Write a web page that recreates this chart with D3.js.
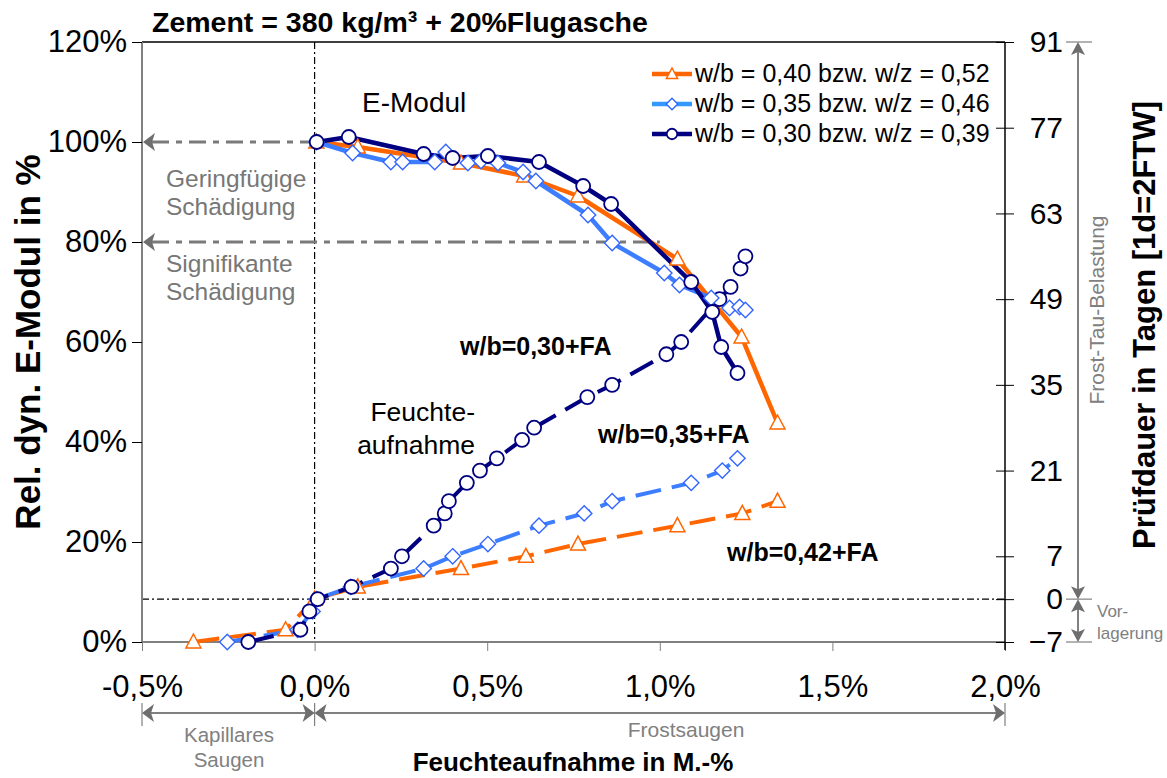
<!DOCTYPE html>
<html>
<head>
<meta charset="utf-8">
<script src="https://cdn.jsdelivr.net/npm/d3@7"></script>
<style>
  body { margin: 0; background: #fff; }
  svg { font-family: "Liberation Sans", Arial, sans-serif; }
</style>
</head>
<body>
<div id="chart"></div>
<script>
// --- Daten ---
// E-Modul (linke Achse, %) ueber Feuchteaufnahme (M.-%)
const feuchteE040 = [0.005, 0.125, 0.424, 0.607, 0.763, 1.051, 1.237, 1.341];
const emodul040   = [100, 99, 95.8, 93.2, 89.2, 76.6, 61, 43.8];

const feuchteE035 = [0.006, 0.110, 0.221, 0.255, 0.348, 0.380, 0.444, 0.482, 0.531, 0.604, 0.641, 0.792, 0.862, 1.013, 1.057, 1.149, 1.202, 1.231, 1.248];
const emodul035   = [100, 97.8, 96, 96, 96, 98, 95.8, 96.2, 95.8, 94, 92.2, 85.4, 79.8, 73.8, 71.4, 68.8, 66.8, 67, 66.4];

const feuchteE030 = [0.006, 0.099, 0.316, 0.40, 0.502, 0.65, 0.778, 0.859, 1.091, 1.152, 1.178, 1.225];
const emodul030   = [100, 101, 97.6, 96.8, 97.2, 96, 91.2, 87.6, 72, 66, 59, 53.8];

// Feuchteaufnahme (M.-%) ueber Pruefdauer (rechte Achse, Tage)
const feuchte042 = [-0.351, -0.084, 0.0, 0.125, 0.424, 0.612, 0.763, 1.051, 1.239, 1.341];
const tage042    = [-7, -5, 0, 2, 5, 7, 9, 12, 14, 16];

const feuchte035 = [-0.253, -0.049, -0.006, 0.006, 0.105, 0.316, 0.40, 0.502, 0.65, 0.781, 0.862, 1.091, 1.181, 1.225];
const tage035    = [-7, -5, -2, 0, 2, 5, 7, 9, 12, 14, 16, 19, 21, 23];

const feuchte030 = [-0.192, -0.041, -0.015, 0.009, 0.107, 0.221, 0.253, 0.345, 0.377, 0.389, 0.441, 0.479, 0.528, 0.601, 0.636, 0.790, 0.862, 1.019, 1.062, 1.173, 1.205, 1.234, 1.248];
const tage030    = [-7, -5, -2, 0, 2, 5, 7, 12, 14, 16, 19, 21, 23, 26, 28, 33, 35, 40, 42, 49, 51, 54, 56];

// Achsen
const xTicks = [-0.5, 0, 0.5, 1.0, 1.5, 2.0];
const yTicks = [0, 20, 40, 60, 80, 100, 120];
const tagTicks = [-7, 0, 7, 21, 35, 49, 63, 77, 91];

const legendLabels = ["w/b = 0,40 bzw. w/z = 0,52", "w/b = 0,35 bzw. w/z = 0,46", "w/b = 0,30 bzw. w/z = 0,39"];

// Farben
const orange = "#ff6600";
const blau = "#3d7dff";
const blauMarker = "#3366ff";
const navy = "#000080";
const grau = "#7a7a7a";

const breite = 1167, hoehe = 778;
const links = 142, rechts = 1005, oben = 42, unten = 642;

const svg = d3.select("#chart").append("svg")
  .attr("width", breite).attr("height", hoehe);

const x = d3.scaleLinear().domain([-0.5, 2.0]).range([links, rechts]);
const yE = d3.scaleLinear().domain([0, 120]).range([unten, oben]);
const yT = d3.scaleLinear().domain([-7, 91]).range([unten, oben]);

// Rahmen oben
svg.append("line").attr("x1", links).attr("x2", rechts).attr("y1", oben).attr("y2", oben)
  .attr("stroke", "#000").attr("stroke-width", 1.5);

// Hilfslinien strichpunktiert (schwarz)
svg.append("line").attr("x1", x(0)).attr("x2", x(0)).attr("y1", oben).attr("y2", unten)
  .attr("stroke", "#000").attr("stroke-width", 1.2).attr("stroke-dasharray", "7,3,2,3");
svg.append("line").attr("x1", links).attr("x2", rechts).attr("y1", yT(0)).attr("y2", yT(0))
  .attr("stroke", "#000").attr("stroke-width", 1.2).attr("stroke-dasharray", "7,3,2,3");

// Pfeil-Spitzen (grau)
function spitze(px, py, richtung) {
  // richtung: "l", "r", "u", "d"
  const p = {
    l: [[0, 0], [12, -9], [9, 0], [12, 9]],
    r: [[0, 0], [-12, -9], [-9, 0], [-12, 9]],
    u: [[0, 0], [-7, 13], [0, 10], [7, 13]],
    d: [[0, 0], [-7, -13], [0, -10], [7, -13]]
  }[richtung];
  svg.append("path")
    .attr("d", "M" + p.map(q => (px + q[0]) + "," + (py + q[1])).join("L") + "Z")
    .attr("fill", "#6e6e6e");
}

// Schaedigungsgrenzen 100 % und 80 %
svg.append("line").attr("x1", links + 10).attr("x2", x(0) - 4).attr("y1", yE(100)).attr("y2", yE(100))
  .attr("stroke", grau).attr("stroke-width", 3).attr("stroke-dasharray", "17,7,6,7");
spitze(links + 1, yE(100), "l");
svg.append("line").attr("x1", links + 10).attr("x2", x(1.0)).attr("y1", yE(80)).attr("y2", yE(80))
  .attr("stroke", grau).attr("stroke-width", 3).attr("stroke-dasharray", "17,7,6,7");
spitze(links + 1, yE(80), "l");

const grauText = [
  ["Geringfügige", 187], ["Schädigung", 215], ["Signifikante", 272], ["Schädigung", 300]
];
svg.selectAll("text.grau").data(grauText).join("text")
  .attr("class", "grau")
  .attr("x", 166).attr("y", d => d[1])
  .attr("font-size", 24.5).attr("fill", "#777")
  .text(d => d[0]);

// Achsen
const achseLinks = svg.append("g").attr("transform", `translate(${links},0)`)
  .call(d3.axisLeft(yE).tickValues(yTicks).tickSize(10).tickPadding(5).tickFormat(d => d + "%"));
achseLinks.select(".domain").attr("stroke", "#808080").attr("stroke-width", 2).attr("d", `M0,${oben}V${unten}`);
achseLinks.selectAll("text").attr("font-size", 31).attr("fill", "#000").attr("font-family", null);

const achseUnten = svg.append("g").attr("transform", `translate(0,${unten})`)
  .call(d3.axisBottom(x).tickValues(xTicks).tickSize(9).tickPadding(24)
    .tickFormat(d => (d < 0 ? "-" : "") + Math.abs(d).toFixed(1).replace(".", ",") + "%"));
achseUnten.select(".domain").attr("stroke", "#808080").attr("stroke-width", 2).attr("d", `M${links},0H${rechts}`);
achseUnten.selectAll(".tick line").attr("stroke", "#808080");
achseUnten.selectAll("text").attr("font-size", 31).attr("fill", "#000").attr("font-family", null);

const achseRechts = svg.append("g").attr("transform", `translate(${rechts},0)`)
  .call(d3.axisRight(yT).tickValues(tagTicks).tickSize(9).tickPadding(0));
achseRechts.select(".domain").attr("stroke", "#000").attr("stroke-width", 1.5).attr("d", `M0,${oben}V${unten + 8}`);
achseRechts.selectAll(".tick line").attr("x1", -9).attr("x2", 9);
achseRechts.selectAll("text").attr("font-size", 30).attr("fill", "#000").attr("font-family", null)
  .attr("text-anchor", "end").attr("x", 58);

// Achsentitel
svg.append("text")
  .attr("transform", `translate(40,342) rotate(-90)`)
  .attr("text-anchor", "middle").attr("font-size", 35).attr("font-weight", "bold")
  .text("Rel. dyn. E-Modul in %");
svg.append("text")
  .attr("transform", `translate(1155,325) rotate(-90)`)
  .attr("text-anchor", "middle").attr("font-size", 31).attr("font-weight", "bold")
  .text("Prüfdauer in Tagen [1d=2FTW]");
svg.append("text")
  .attr("x", 573).attr("y", 771)
  .attr("text-anchor", "middle").attr("font-size", 26).attr("font-weight", "bold")
  .text("Feuchteaufnahme in M.-%");
svg.append("text")
  .attr("x", 152).attr("y", 32)
  .attr("font-size", 28.5).attr("font-weight", "bold")
  .text("Zement = 380 kg/m³ + 20%Flugasche");

// Rechte Zusatzachse: Frost-Tau-Belastung / Vorlagerung
[91, 0, -7].forEach(t => {
  svg.append("line").attr("x1", 1066).attr("x2", 1092).attr("y1", yT(t)).attr("y2", yT(t))
    .attr("stroke", "#808080").attr("stroke-width", 1.2);
});
svg.append("line").attr("x1", 1078).attr("x2", 1078).attr("y1", yT(91) + 8).attr("y2", yT(0) - 8)
  .attr("stroke", "#808080").attr("stroke-width", 2);
spitze(1078, yT(91), "u");
spitze(1078, yT(0), "d");
svg.append("line").attr("x1", 1078).attr("x2", 1078).attr("y1", yT(0) + 8).attr("y2", yT(-7) - 8)
  .attr("stroke", "#808080").attr("stroke-width", 2);
spitze(1078, yT(0), "u");
spitze(1078, yT(-7), "d");
svg.append("text")
  .attr("transform", `translate(1104,310) rotate(-90)`)
  .attr("text-anchor", "middle").attr("font-size", 21).attr("fill", "#808080")
  .text("Frost-Tau-Belastung");
svg.append("text").attr("x", 1097).attr("y", 617).attr("font-size", 17).attr("fill", "#808080").text("Vor-");
svg.append("text").attr("x", 1097).attr("y", 639).attr("font-size", 17).attr("fill", "#808080").text("lagerung");

// Untere Zusatzachse: Kapillares Saugen / Frostsaugen
[-0.5, 0, 2.0].forEach(v => {
  svg.append("line").attr("x1", x(v)).attr("x2", x(v)).attr("y1", 703).attr("y2", 726)
    .attr("stroke", "#808080").attr("stroke-width", 1.2);
});
svg.append("line").attr("x1", x(-0.5) + 8).attr("x2", x(0) - 8).attr("y1", 713).attr("y2", 713)
  .attr("stroke", "#808080").attr("stroke-width", 2);
spitze(x(-0.5), 713, "l");
spitze(x(0), 713, "r");
svg.append("line").attr("x1", x(0) + 8).attr("x2", x(2.0) - 8).attr("y1", 713).attr("y2", 713)
  .attr("stroke", "#808080").attr("stroke-width", 2);
spitze(x(0), 713, "l");
spitze(x(2.0), 713, "r");
svg.append("text").attr("x", 229).attr("y", 742).attr("text-anchor", "middle")
  .attr("font-size", 20.5).attr("fill", "#808080").text("Kapillares");
svg.append("text").attr("x", 229).attr("y", 767).attr("text-anchor", "middle")
  .attr("font-size", 20.5).attr("fill", "#808080").text("Saugen");
svg.append("text").attr("x", 686).attr("y", 737).attr("text-anchor", "middle")
  .attr("font-size", 21).attr("fill", "#808080").text("Frostsaugen");

// Beschriftungen im Diagramm
svg.append("text").attr("x", 362).attr("y", 112).attr("font-size", 28).text("E-Modul");
svg.append("text").attr("x", 475).attr("y", 421).attr("text-anchor", "end").attr("font-size", 26.5).text("Feuchte-");
svg.append("text").attr("x", 475).attr("y", 454).attr("text-anchor", "end").attr("font-size", 26.5).text("aufnahme");
[["w/b=0,30+FA", 460, 355], ["w/b=0,35+FA", 598, 443], ["w/b=0,42+FA", 727, 561]].forEach(d => {
  svg.append("text").attr("x", d[1]).attr("y", d[2]).attr("font-size", 25).attr("font-weight", "bold").text(d[0]);
});

// Marker
function marker(g, typ, farbe, gross) {
  const s = gross ? 1 : 0.75;
  if (typ === "kreis") {
    g.append("circle").attr("r", 7 * s).attr("fill", "#fff").attr("stroke", farbe).attr("stroke-width", 1.8);
  } else if (typ === "raute") {
    g.append("path").attr("d", d3.symbol(d3.symbolDiamond2, 150 * s * s)())
      .attr("fill", "#fff").attr("stroke", farbe).attr("stroke-width", 1.4);
  } else {
    g.append("path").attr("d", `M0,${-8 * s}L${7.5 * s},${6 * s}L${-7.5 * s},${6 * s}Z`)
      .attr("fill", "#fff").attr("stroke", farbe).attr("stroke-width", 1.5);
  }
}

const feuchteSerien = [
  { xs: feuchte042, ts: tage042, farbe: orange, mfarbe: orange, typ: "dreieck" },
  { xs: feuchte035, ts: tage035, farbe: blau, mfarbe: blauMarker, typ: "raute" },
  { xs: feuchte030, ts: tage030, farbe: navy, mfarbe: navy, typ: "kreis" }
];
const emodulSerien = [
  { xs: feuchteE040, ys: emodul040, farbe: orange, mfarbe: orange, typ: "dreieck" },
  { xs: feuchteE035, ys: emodul035, farbe: blau, mfarbe: blauMarker, typ: "raute" },
  { xs: feuchteE030, ys: emodul030, farbe: navy, mfarbe: navy, typ: "kreis" }
];

const linieT = d3.line().x(d => x(d[0])).y(d => yT(d[1]));
const linieE = d3.line().x(d => x(d[0])).y(d => yE(d[1]));

feuchteSerien.forEach(s => {
  const pts = s.xs.map((v, i) => [v, s.ts[i]]);
  svg.append("path").attr("d", linieT(pts)).attr("fill", "none")
    .attr("stroke", s.farbe).attr("stroke-width", 4).attr("stroke-dasharray", "26,11");
});
emodulSerien.forEach(s => {
  const pts = s.xs.map((v, i) => [v, s.ys[i]]);
  svg.append("path").attr("d", linieE(pts)).attr("fill", "none")
    .attr("stroke", s.farbe).attr("stroke-width", 4.5).attr("stroke-linejoin", "round");
});
feuchteSerien.forEach(s => {
  s.xs.forEach((v, i) => {
    const g = svg.append("g").attr("transform", `translate(${x(v)},${yT(s.ts[i])})`);
    marker(g, s.typ, s.mfarbe, true);
  });
});
emodulSerien.forEach(s => {
  s.xs.forEach((v, i) => {
    const g = svg.append("g").attr("transform", `translate(${x(v)},${yE(s.ys[i])})`);
    marker(g, s.typ, s.mfarbe, true);
  });
});

// Legende
const legende = svg.append("g");
emodulSerien.forEach((s, i) => {
  const yy = 74 + i * 30;
  legende.append("line").attr("x1", 652).attr("x2", 692).attr("y1", yy).attr("y2", yy)
    .attr("stroke", i === 1 ? "#3399ff" : s.farbe).attr("stroke-width", 4.5);
  const g = legende.append("g").attr("transform", `translate(672,${yy})`);
  marker(g, s.typ, s.mfarbe, false);
  legende.append("text").attr("x", 695).attr("y", yy + 8).attr("font-size", 25).text(legendLabels[i]);
});
</script>
</body>
</html>
